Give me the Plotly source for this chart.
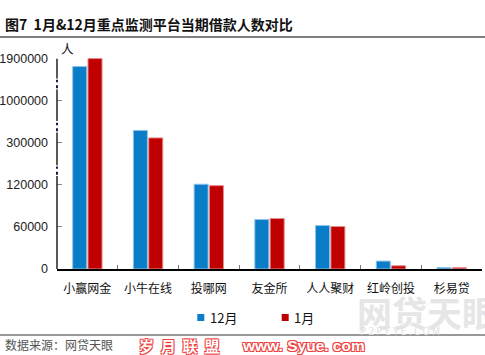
import plotly.graph_objects as go

# ---------------- data ----------------
platforms = ["小赢网金", "小牛在线", "投哪网", "友金所", "人人聚财", "红岭创投", "杉易贷"]
dec_values = [1735000, 508000, 123000, 70600, 62000, 11300, 2000]   # 12月
jan_values = [1906000, 383000, 119000, 72100, 60600, 4600, 1800]    # 1月
series_names = ["12月", "1月"]
tick_values = [0, 60000, 120000, 300000, 1000000, 1900000]
tick_labels = ["0", "60000", "120000", "300000", "1000000", "1900000"]

# broken (piecewise-linear) axis: each interval between ticks has equal height
def to_axis(v):
    for i in range(len(tick_values) - 1):
        lo, hi = tick_values[i], tick_values[i + 1]
        if v <= hi or i == len(tick_values) - 2:
            return i + (v - lo) / (hi - lo)

dec_y = [to_axis(v) for v in dec_values]
jan_y = [to_axis(v) for v in jan_values]
tick_pos = [to_axis(v) for v in tick_values]

BLUE = "#0a7dc9"
RED = "#c00000"

# layout geometry (pixels)
W, H = 485, 355
ML, MR, MT, MB = 57, 3, 58, 86
PW, PH = W - ML - MR, H - MT - MB

def px(xp):
    return (xp - ML) / PW

def py(yp):
    return (H - MB - yp) / PH

fig = go.Figure()
fig.add_trace(go.Bar(x=platforms, y=dec_y, name=series_names[0],
                     marker=dict(color=BLUE, line=dict(color="#8cc4e8", width=1)),
                     customdata=dec_values, hovertemplate="%{x}<br>12月: %{customdata}<extra></extra>"))
fig.add_trace(go.Bar(x=platforms, y=jan_y, name=series_names[1],
                     marker=dict(color=RED, line=dict(color="#e48a8a", width=1)),
                     customdata=jan_values, hovertemplate="%{x}<br>1月: %{customdata}<extra></extra>"))

YMAX = 5.02
shapes = []
# broken y axis line: solid pieces and dotted break marks
solid = [(0, 2.21), (2.47, 3.25), (3.52, 4.27), (4.53, 5.0)]
for a, b in solid:
    shapes.append(dict(type="line", xref="paper", yref="y", x0=0, x1=0, y0=a, y1=b,
                       line=dict(color="black", width=1.3)))
for c in [2.34, 3.38, 4.40]:
    shapes.append(dict(type="line", xref="paper", yref="y", x0=0, x1=0, y0=c - 0.1, y1=c + 0.1,
                       line=dict(color="#1a1a50", width=2, dash="dot")))
# title underline and footer line
shapes.append(dict(type="line", xref="paper", yref="paper", x0=px(0), x1=px(W), y0=py(37), y1=py(37),
                   line=dict(color="black", width=1.2)))
shapes.append(dict(type="line", xref="paper", yref="paper", x0=px(0), x1=px(W), y0=py(335), y1=py(335),
                   line=dict(color="#333", width=1)))

# manual legend (small squares + labels)
legend_items = [(series_names[0], BLUE, 197.3, 208.3), (series_names[1], RED, 281.7, 291.7)]
annotations = []
for name, col, sq_x, tx_x in legend_items:
    shapes.append(dict(type="rect", xref="paper", yref="paper", x0=px(sq_x), x1=px(sq_x + 7),
                       y0=py(321), y1=py(314), fillcolor=col, line=dict(width=0)))
    annotations.append(dict(text=name, xref="paper", yref="paper", x=px(tx_x), y=py(317.5),
                            xanchor="left", yanchor="middle", showarrow=False,
                            font=dict(size=13, color="#111")))

outline = "1px 1px 0 #f04040, -1px -1px 0 #f04040, 1px -1px 0 #f04040, -1px 1px 0 #f04040"
annotations += [
    dict(text="网贷天眼", xref="paper", yref="paper", x=px(355), y=py(311), xanchor="left", yanchor="middle",
         showarrow=False, font=dict(size=35, color="#e6e6e6", weight="bold")),
    dict(text="P 2 P E Y E . C O M", xref="paper", yref="paper", x=px(358), y=py(330), xanchor="left",
         yanchor="middle", showarrow=False, font=dict(size=10, color="#e2e2e2")),
    dict(text="<b>图7  1月&12月重点监测平台当期借款人数对比</b>", xref="paper", yref="paper",
         x=px(3), y=py(24), xanchor="left", yanchor="middle", showarrow=False,
         font=dict(size=14, color="#111")),
    dict(text="人", xref="paper", yref="paper", x=px(59), y=py(49), xanchor="left", yanchor="middle",
         showarrow=False, font=dict(size=12.5, color="#111")),
    dict(text="数据来源：网贷天眼", xref="paper", yref="paper", x=px(3), y=py(344), xanchor="left",
         yanchor="middle", showarrow=False, font=dict(size=12, color="#555")),
    dict(text="<b>岁  月  联  盟</b>", xref="paper", yref="paper", x=px(137), y=py(345),
         xanchor="left", yanchor="middle", showarrow=False,
         font=dict(size=15, color="white", shadow=outline)),
    dict(text="<b>www. Syue. com</b>", xref="paper", yref="paper", x=px(240), y=py(345),
         xanchor="left", yanchor="middle", showarrow=False,
         font=dict(family="Liberation Sans, Arial, sans-serif", size=15.5, color="white", shadow=outline)),
]

fig.update_layout(
    width=W, height=H,
    margin=dict(l=ML, r=MR, t=MT, b=MB),
    paper_bgcolor="white", plot_bgcolor="white",
    barmode="group", bargap=0.495, bargroupgap=0.085,
    font=dict(family="Noto Sans CJK SC, sans-serif", color="#111", size=12),
    shapes=shapes,
    showlegend=False,
    xaxis=dict(showline=True, linecolor="black", linewidth=1.5, ticks="inside", tickson="boundaries",
               ticklen=4, tickcolor="#777", tickwidth=1.2, showgrid=False,
               tickfont=dict(size=12, color="#111"), ticklabelstandoff=8),
    yaxis=dict(range=[0, YMAX], tickvals=tick_pos, ticktext=tick_labels, showgrid=False, zeroline=False,
               showline=False, ticks="inside", ticklen=5, tickcolor="#888", tickwidth=1.2,
               tickfont=dict(family="Liberation Sans, Arial, sans-serif", size=12.5, color="#222"),
               ticklabelstandoff=8, automargin=False),
    annotations=annotations,
)

fig.write_html("out.html", config={"displayModeBar": False},
               post_script="document.body.style.margin='0';")
